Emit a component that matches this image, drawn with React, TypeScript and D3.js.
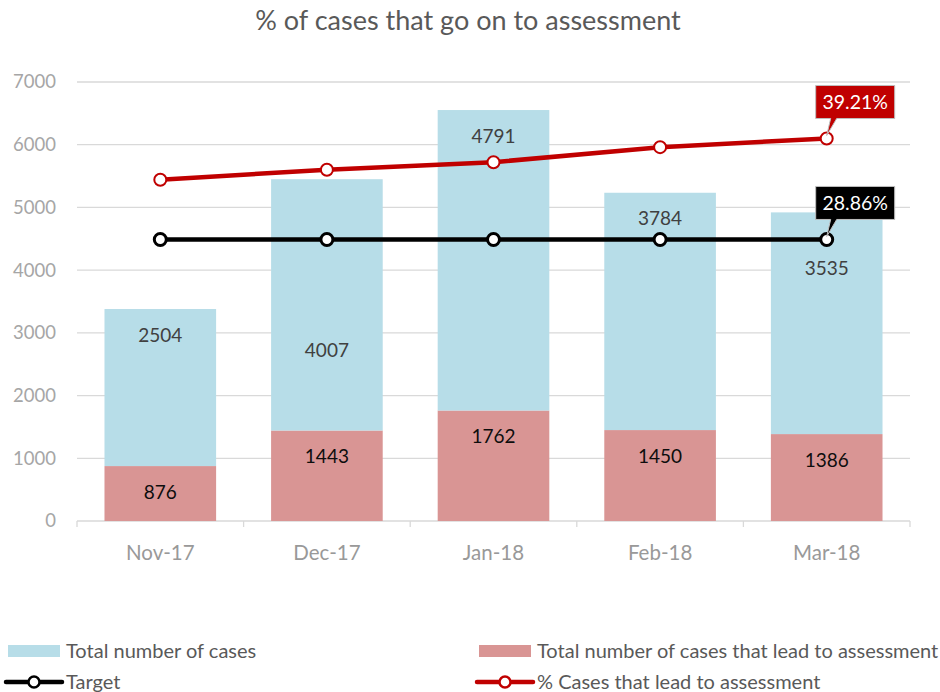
import { useEffect, useRef } from "react";
import * as d3 from "d3";

const months = ["Nov-17", "Dec-17", "Jan-18", "Feb-18", "Mar-18"];
const assessed = [876, 1443, 1762, 1450, 1386];
const notAssessed = [2504, 4007, 4791, 3784, 3535];
const pctAssessed = [0.3498, 0.3601, 0.3678, 0.3832, 0.3921];
const target = [0.2886, 0.2886, 0.2886, 0.2886, 0.2886];
const yTicks = [0, 1000, 2000, 3000, 4000, 5000, 6000, 7000];

// manual label nudges (px) for the blue labels that would clash with the lines
const blueNudge = [0, 145, 0, 0, 30];

const FONT = "Lato, 'Open Sans', sans-serif";
const BLUE = "#b7dde8";
const PINK = "#d99594";
const RED = "#c00000";

const App = () => {
  const ref = useRef<SVGSVGElement>(null);

  useEffect(() => {
    const svg = d3.select(ref.current);
    svg.selectAll("*").remove();
    const width = 940,
      height = 692;
    const margin = { top: 82, right: 30, bottom: 171, left: 77 };

    svg.attr("width", width).attr("height", height);

    svg
      .append("text")
      .attr("x", 468)
      .attr("y", 30)
      .attr("text-anchor", "middle")
      .attr("fill", "#595959")
      .style("font-family", FONT)
      .style("font-size", "27px")
      .text("% of cases that go on to assessment");

    const x = d3
      .scaleBand<string>()
      .domain(months)
      .range([margin.left, width - margin.right])
      .paddingInner(0.33)
      .paddingOuter(0.165);
    const step = x.step();
    const y = d3
      .scaleLinear()
      .domain([0, 7000])
      .range([height - margin.bottom, margin.top]);
    const y2 = d3
      .scaleLinear()
      .domain([0, 0.45])
      .range([height - margin.bottom, margin.top]);

    const x0 = margin.left,
      x1 = width - margin.right;

    // grid
    svg
      .append("g")
      .selectAll("line")
      .data(yTicks)
      .enter()
      .append("line")
      .attr("x1", x0)
      .attr("x2", x1)
      .attr("y1", (d) => y(d))
      .attr("y2", (d) => y(d))
      .attr("stroke", "#d9d9d9")
      .attr("stroke-width", 1.3);

    svg
      .append("g")
      .selectAll("text")
      .data(yTicks)
      .enter()
      .append("text")
      .attr("x", 56)
      .attr("y", (d) => y(d))
      .attr("dy", "0.35em")
      .attr("text-anchor", "end")
      .attr("fill", "#a6a6a6")
      .style("font-family", FONT)
      .style("font-size", "18.5px")
      .text((d) => d);

    // category ticks
    svg
      .append("g")
      .selectAll("line")
      .data(d3.range(months.length + 1))
      .enter()
      .append("line")
      .attr("x1", (i) => x0 + i * step)
      .attr("x2", (i) => x0 + i * step)
      .attr("y1", y(0))
      .attr("y2", y(0) + 6)
      .attr("stroke", "#d9d9d9")
      .attr("stroke-width", 1.3);

    svg
      .append("g")
      .selectAll("text")
      .data(months)
      .enter()
      .append("text")
      .attr("x", (d) => (x(d) ?? 0) + x.bandwidth() / 2)
      .attr("y", 560)
      .attr("text-anchor", "middle")
      .attr("fill", "#999999")
      .style("font-family", FONT)
      .style("font-size", "20.5px")
      .text((d) => d);

    // bars
    const bars = svg.append("g");
    months.forEach((m, i) => {
      const bx = x(m) ?? 0;
      const bw = x.bandwidth();
      bars
        .append("rect")
        .attr("x", bx)
        .attr("y", y(assessed[i]))
        .attr("width", bw)
        .attr("height", y(0) - y(assessed[i]))
        .attr("fill", PINK);
      bars
        .append("rect")
        .attr("x", bx)
        .attr("y", y(assessed[i] + notAssessed[i]))
        .attr("width", bw)
        .attr("height", y(assessed[i]) - y(assessed[i] + notAssessed[i]))
        .attr("fill", BLUE);
      bars
        .append("text")
        .attr("x", bx + bw / 2)
        .attr("y", y(assessed[i]) + 26)
        .attr("dy", "0.35em")
        .attr("text-anchor", "middle")
        .attr("fill", "#0d0d0d")
        .style("font-family", FONT)
        .style("font-size", "19px")
        .text(assessed[i]);
      bars
        .append("text")
        .attr("x", bx + bw / 2)
        .attr("y", y(assessed[i] + notAssessed[i]) + 26 + blueNudge[i])
        .attr("dy", "0.35em")
        .attr("text-anchor", "middle")
        .attr("fill", "#404040")
        .style("font-family", FONT)
        .style("font-size", "19px")
        .text(notAssessed[i]);
    });

    const cx = (i: number) => (x(months[i]) ?? 0) + x.bandwidth() / 2;

    const drawLine = (vals: number[], color: string, mw: number) => {
      const line = d3
        .line<number>()
        .x((_, i) => cx(i))
        .y((d) => y2(d));
      svg
        .append("path")
        .datum(vals)
        .attr("fill", "none")
        .attr("stroke", color)
        .attr("stroke-width", 4.5)
        .attr("d", line);
      svg
        .append("g")
        .selectAll("circle")
        .data(vals)
        .enter()
        .append("circle")
        .attr("cx", (_, i) => cx(i))
        .attr("cy", (d) => y2(d))
        .attr("r", 6)
        .attr("fill", "#fff")
        .attr("stroke", color)
        .attr("stroke-width", mw);
    };
    drawLine(target, "#000000", 3);
    drawLine(pctAssessed, RED, 2);

    // callouts on last point
    const callout = (v: number, color: string, txt: string) => {
      const px = cx(months.length - 1);
      const py = y2(v);
      const bx = px - 11,
        bw = 79,
        bh = 33,
        by = py - 20 - bh;
      const path = d3.path();
      path.moveTo(bx, by);
      path.lineTo(bx + bw, by);
      path.lineTo(bx + bw, by + bh);
      path.lineTo(bx + 21, by + bh);
      path.lineTo(px, py - 3);
      path.lineTo(bx + 15, by + bh);
      path.lineTo(bx, by + bh);
      path.closePath();
      svg
        .append("path")
        .attr("d", path.toString())
        .attr("fill", color)
        .attr("stroke", "#bfbfbf")
        .attr("stroke-width", 1);
      svg
        .append("text")
        .attr("x", bx + bw / 2)
        .attr("y", by + bh / 2)
        .attr("dy", "0.35em")
        .attr("text-anchor", "middle")
        .attr("fill", "#fff")
        .style("font-family", FONT)
        .style("font-size", "19.5px")
        .text(txt);
    };
    const last = months.length - 1;
    callout(pctAssessed[last], RED, d3.format(".2%")(pctAssessed[last]));
    callout(target[last], "#000000", d3.format(".2%")(target[last]));

    // legend
    const lg = svg.append("g").style("font-family", FONT).style("font-size", "20px");
    const legendItems = [
      { label: "Total number of cases", color: BLUE, kind: "rect", lx: 8, ly: 651 },
      { label: "Total number of cases that lead to assessment", color: PINK, kind: "rect", lx: 479, ly: 651 },
      { label: "Target", color: "#000000", kind: "line", lx: 6, ly: 682 },
      { label: "% Cases that lead to assessment", color: RED, kind: "line", lx: 477, ly: 682 },
    ];
    legendItems.forEach((it) => {
      if (it.kind === "rect") {
        lg.append("rect")
          .attr("x", it.lx)
          .attr("y", it.ly - 6)
          .attr("width", 52)
          .attr("height", 12)
          .attr("fill", it.color);
      } else {
        lg.append("line")
          .attr("x1", it.lx)
          .attr("x2", it.lx + 56)
          .attr("y1", it.ly)
          .attr("y2", it.ly)
          .attr("stroke", it.color)
          .attr("stroke-width", 4.5)
          .attr("stroke-linecap", "round");
        lg.append("circle")
          .attr("cx", it.lx + 28)
          .attr("cy", it.ly)
          .attr("r", 5.5)
          .attr("fill", "#fff")
          .attr("stroke", it.color)
          .attr("stroke-width", 2.5);
      }
      lg.append("text")
        .attr("x", it.kind === "rect" ? it.lx + 58 : it.lx + 60)
        .attr("y", it.ly)
        .attr("dy", "0.35em")
        .attr("fill", "#595959")
        .text(it.label);
    });
  }, []);

  return (
    <svg
      ref={ref}
      style={{ position: "absolute", left: 0, top: 0, background: "#fff" }}
    />
  );
};

export default App;
